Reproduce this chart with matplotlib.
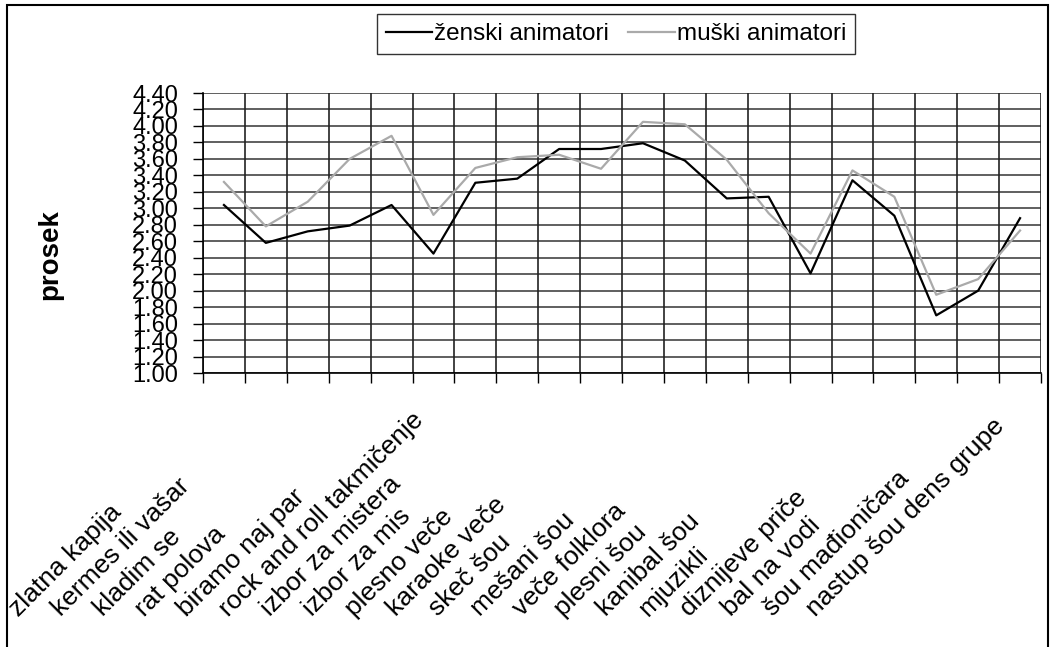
import matplotlib
matplotlib.use("Agg")
import matplotlib.pyplot as plt
from matplotlib.patches import Rectangle
from matplotlib.transforms import ScaledTranslation, blended_transform_factory
import numpy as np

plt.rcParams["font.family"] = ["Liberation Sans", "DejaVu Sans"]

# data
categories = [
    "zlatna kapija", "kermes ili vašar", "kladim se", "rat polova",
    "biramo naj par", "rock and roll takmičenje", "izbor za mistera",
    "izbor za mis", "plesno veče", "karaoke veče", "skeč šou", "mešani šou",
    "veče folklora", "plesni šou", "kanibal šou", "mjuzikli",
    "diznijeve priče", "bal na vodi", "šou mađioničara", "nastup šou dens grupe",
]
zenski = [3.04, 2.58, 2.72, 2.79, 3.04, 2.45, 3.31, 3.36, 3.72, 3.72,
          3.79, 3.58, 3.12, 3.14, 2.21, 3.34, 2.91, 1.70, 2.00, 2.88]
muski = [3.32, 2.78, 3.08, 3.60, 3.88, 2.92, 3.49, 3.62, 3.65, 3.48,
         4.05, 4.02, 3.59, 2.94, 2.45, 3.46, 3.14, 1.95, 2.14, 2.73]
y_ticks = [round(1.0 + 0.2 * i, 2) for i in range(18)]

W, H = 1051, 647
fig = plt.figure(figsize=(W / 100, H / 100), dpi=100)
ax = fig.add_axes([203 / W, 1 - 373 / H, (1041 - 203) / W, (373 - 93) / H])

x = np.arange(len(categories))
ax.plot(x, zenski, color="black", lw=1.6, label="ženski animatori", zorder=3)
ax.plot(x, muski, color="#aaaaaa", lw=1.6, label="muški animatori", zorder=3)

ax.set_xlim(-0.5, len(categories) - 0.5)
ax.set_ylim(1.0, 4.4)
ax.set_yticks(y_ticks)
ax.set_yticklabels([f"{v:.2f}" for v in y_ticks], fontsize=17)
ax.tick_params(axis="y", length=7, width=1, pad=11)

bounds = np.arange(-0.5, len(categories), 1.0)
ax.set_xticks(bounds)
ax.set_xticklabels([])
ax.tick_params(axis="x", length=7, width=1)

for v in y_ticks:
    ax.axhline(v, color="#444444", lw=1.2, zorder=1)
for b in bounds:
    ax.axvline(b, color="#222222", lw=1.2, zorder=1)

for side in ("top", "right"):
    ax.spines[side].set_visible(False)
ax.spines["left"].set_linewidth(1.2)
ax.spines["bottom"].set_linewidth(1.2)

ax.set_ylabel("prosek", fontsize=20, fontweight="bold")
ax.yaxis.set_label_coords(63 / W, 1 - 255 / H, transform=fig.transFigure)

# rotated category labels, anchored at their start like the original
label_trans = blended_transform_factory(ax.transData, fig.transFigure) + \
    ScaledTranslation(-2.05, 0, fig.dpi_scale_trans)
for xi, name in zip(x, categories):
    ax.text(xi, 1 - 617 / H, name, transform=label_trans, rotation=45,
            rotation_mode="anchor", ha="left", va="baseline", fontsize=19,
            clip_on=False)

leg = fig.legend(loc="center", bbox_to_anchor=(616 / W, 1 - 34 / H),
                 ncol=2, fontsize=17.5, frameon=True, fancybox=False,
                 handlelength=1.9, handletextpad=0.1, columnspacing=0.8,
                 borderpad=0.35, borderaxespad=0)
leg.get_frame().set_edgecolor("black")
leg.get_frame().set_linewidth(1.0)
for line in leg.get_lines():
    line.set_linewidth(1.6)

fig.patches.append(Rectangle((7 / W, -0.05), (1048 - 7) / W, 1.05 - 5 / H,
                             transform=fig.transFigure, fill=False,
                             edgecolor="black", lw=1.5))

fig.savefig("out.png", dpi=100)
